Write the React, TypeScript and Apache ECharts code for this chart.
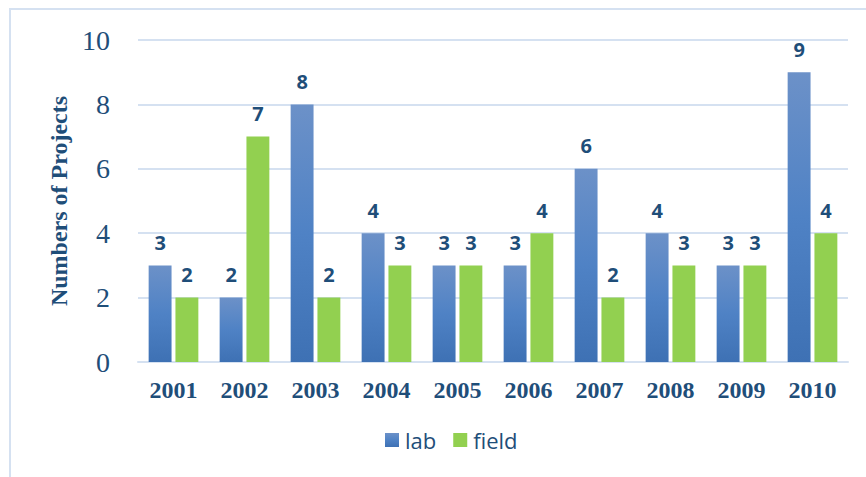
import React, { useEffect, useRef } from "react";
import * as echarts from "echarts";

const years = ["2001", "2002", "2003", "2004", "2005", "2006", "2007", "2008", "2009", "2010"];
const labValues = [3, 2, 8, 4, 3, 3, 6, 4, 3, 9];
const fieldValues = [2, 7, 2, 3, 3, 4, 2, 3, 3, 4];
const yTicks = { min: 0, max: 10, interval: 2 };

const navy = "#1f4e79";
const gridColor = "#d5e1f1";

export default function App() {
  const ref = useRef<HTMLDivElement>(null);
  useEffect(() => {
    if (!ref.current) return;
    const chart = echarts.init(ref.current, null, { renderer: "svg" });
    const labelStyle = {
      show: true,
      position: "top" as const,
      distance: 13,
      fontFamily: "Open Sans",
      fontWeight: "bold" as const,
      fontSize: 20,
      color: navy,
    };
    chart.setOption({
      animation: false,
      backgroundColor: "#ffffff",
      graphic: [
        {
          type: "rect",
          shape: { x: 10, y: 9, width: 900, height: 520 },
          style: { fill: "none", stroke: gridColor, lineWidth: 2 },
          silent: true,
        },
      ],
      grid: { left: 138, right: 18, top: 40, bottom: 115 },
      legend: {
        bottom: 21,
        left: 380,
        itemWidth: 14,
        itemHeight: 14,
        itemGap: 17,
        icon: "rect",
        textStyle: { fontFamily: "Open Sans", fontSize: 22, color: navy, padding: [0, 0, 0, 1] },
        data: ["lab", "field"],
      },
      xAxis: {
        type: "category",
        data: years,
        axisLine: { lineStyle: { color: gridColor, width: 2 } },
        axisTick: { show: false },
        axisLabel: {
          margin: 16,
          fontFamily: "Liberation Serif",
          fontWeight: "bold",
          fontSize: 24,
          color: navy,
        },
      },
      yAxis: {
        type: "value",
        min: yTicks.min,
        max: yTicks.max,
        interval: yTicks.interval,
        name: "Numbers of Projects",
        nameLocation: "middle",
        nameGap: 66,
        nameTextStyle: {
          fontFamily: "Liberation Serif",
          fontWeight: "bold",
          fontSize: 24,
          color: navy,
        },
        axisLine: { show: false },
        axisTick: { show: false },
        splitLine: { lineStyle: { color: gridColor, width: 2 } },
        axisLabel: {
          margin: 28,
          fontFamily: "Liberation Serif",
          fontSize: 28,
          color: navy,
        },
      },
      series: [
        {
          name: "lab",
          type: "bar",
          data: labValues,
          barGap: "17%",
          barCategoryGap: "30%",
          itemStyle: {
            color: new echarts.graphic.LinearGradient(0, 0, 0, 1, [
              { offset: 0, color: "#6c91c8" },
              { offset: 0.5, color: "#4f82c5" },
              { offset: 1, color: "#3e71b4" },
            ]),
          },
          label: labelStyle,
        },
        {
          name: "field",
          type: "bar",
          data: fieldValues,
          itemStyle: { color: "#92d050" },
          label: labelStyle,
        },
      ],
    });
    return () => chart.dispose();
  }, []);
  return (
    <div
      ref={ref}
      style={{ position: "fixed", left: 0, top: 0, width: 866, height: 477 }}
    />
  );
}
